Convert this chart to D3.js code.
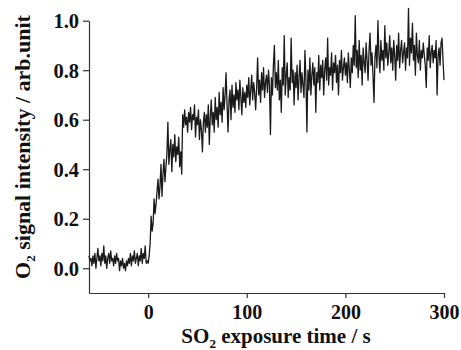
<!DOCTYPE html>
<html>
<head>
<meta charset="utf-8">
<script src="https://cdn.jsdelivr.net/npm/d3@7"></script>
<style>
  body { margin: 0; background: #fff; }
  svg { display: block; }
  text { font-family: "Liberation Serif", "Times New Roman", serif; font-weight: bold; fill: #111; }
</style>
</head>
<body>
<div id="chart"></div>
<script>
// sampling grid of the trace (s)
const startTime = -60;
const stepTime = 1;

// O2 signal before SO2 exposure, t = -60 .. -1 s
const preExposure = [
  0.05, 0.03, 0.04, 0.01, 0.05, 0.02, 0.06, 0.00, 0.04, 0.08,
  0.03, 0.05, 0.01, 0.06, 0.03, 0.09, 0.02, 0.05, 0.00, 0.04,
  0.06, 0.02, 0.07, 0.03, 0.04, 0.01, 0.05, 0.02, 0.06, 0.03,
  0.04, -0.01, 0.03, 0.01, 0.04, 0.00, 0.02, -0.01, 0.03, 0.01,
  0.04, 0.02, 0.06, 0.01, 0.05, 0.03, 0.07, 0.02, 0.04, 0.06,
  0.01, 0.05, 0.03, 0.08, 0.02, 0.06, 0.04, 0.09, 0.02, 0.03
];

// O2 signal during SO2 exposure, t = 0 .. 300 s
const exposure = [
  0.02, 0.05, 0.10, 0.21, 0.15, 0.18, 0.28, 0.22, 0.26, 0.31,
  0.36, 0.28, 0.33, 0.42, 0.29, 0.38, 0.44, 0.35, 0.41, 0.46,
  0.59, 0.42, 0.48, 0.52, 0.39, 0.50, 0.45, 0.54, 0.43, 0.49,
  0.46, 0.53, 0.41, 0.47, 0.38, 0.62, 0.57, 0.64, 0.58, 0.61,
  0.55, 0.63, 0.59, 0.65, 0.56, 0.62, 0.60, 0.66, 0.53, 0.61,
  0.58, 0.64, 0.52, 0.60, 0.56, 0.47, 0.59, 0.63, 0.55, 0.62,
  0.57, 0.66, 0.50, 0.61, 0.68, 0.58, 0.63, 0.55, 0.69, 0.60,
  0.65, 0.57, 0.71, 0.62, 0.67, 0.59, 0.73, 0.64, 0.70, 0.79,
  0.66, 0.55, 0.68, 0.72, 0.60, 0.74, 0.65, 0.70, 0.63, 0.75,
  0.68, 0.72, 0.64, 0.76, 0.69, 0.62, 0.73, 0.67, 0.71, 0.65,
  0.74, 0.69, 0.77, 0.66, 0.72, 0.78, 0.68, 0.75, 0.71, 0.64,
  0.73, 0.85, 0.70, 0.76, 0.67, 0.79, 0.72, 0.81, 0.69, 0.75,
  0.78, 0.71, 0.80, 0.74, 0.54, 0.77, 0.70, 0.82, 0.90, 0.73,
  0.79, 0.72, 0.84, 0.68, 0.76, 0.63, 0.81, 0.74, 0.94, 0.70,
  0.78, 0.83, 0.69, 0.77, 0.72, 0.93, 0.75, 0.80, 0.66, 0.79,
  0.73, 0.82, 0.68, 0.77, 0.84, 0.71, 0.79, 0.74, 0.69, 0.88,
  0.76, 0.55, 0.80, 0.72, 0.85, 0.70, 0.78, 0.83, 0.74, 0.81,
  0.63, 0.79, 0.75, 0.86, 0.72, 0.82, 0.77, 0.84, 0.70, 0.80,
  0.85, 0.76, 0.93, 0.74, 0.81, 0.78, 0.87, 0.72, 0.83, 0.79,
  0.86, 0.75, 0.82, 0.70, 0.84, 0.79, 0.88, 0.76, 0.81, 0.85,
  0.78, 0.83, 0.75, 0.87, 0.80, 0.73, 0.85, 0.79, 0.90, 0.82,
  1.02, 0.81, 0.88, 0.77, 0.92, 0.80, 0.86, 0.74, 0.89, 0.83,
  0.79, 0.91, 0.84, 0.76, 0.88, 0.95, 0.82, 0.87, 0.78, 0.67,
  0.85, 0.90, 0.81, 1.00, 0.86, 0.79, 0.92, 0.84, 0.88, 0.80,
  0.98, 0.85, 0.91, 0.82, 0.87, 0.94, 0.83, 0.89, 0.80, 0.92,
  0.86, 0.76, 0.90, 0.84, 0.95, 0.81, 0.88, 0.92, 0.83, 0.87,
  0.91, 0.80, 0.89, 0.85, 1.05, 0.82, 0.93, 0.87, 0.99, 0.84,
  0.90, 0.78, 0.95, 0.86, 0.83, 0.92, 0.80, 0.88, 0.85, 0.91,
  0.86, 0.82, 0.73, 0.89, 0.84, 0.94, 0.81, 0.87, 0.90, 0.83,
  0.88, 0.85, 0.92, 0.70, 0.86, 0.89, 0.82, 0.91, 0.93, 0.84,
  0.76
];

const xTicks = [0, 100, 200, 300];
const yTicks = [0.0, 0.2, 0.4, 0.6, 0.8, 1.0];

const width = 461, height = 350;
const margin = {top: 20.7, right: 17, bottom: 57, left: 89};

const signal = preExposure.concat(exposure);
const data = signal.map((v, i) => ({t: startTime + i * stepTime, v: v}));

const svg = d3.select("#chart")
  .append("svg")
    .attr("width", width)
    .attr("height", height);

const x = d3.scaleLinear()
  .domain([-60, 300])
  .range([margin.left, width - margin.right]);

const y = d3.scaleLinear()
  .domain([-0.1, 1.0])
  .range([height - margin.bottom, margin.top]);

// x axis
const gx = svg.append("g")
  .attr("transform", "translate(0," + (height - margin.bottom) + ")")
  .call(d3.axisBottom(x).tickValues(xTicks).tickSize(5).tickSizeOuter(0).tickPadding(4));
gx.select(".domain").attr("stroke", "#333").attr("stroke-width", 1.2);
gx.selectAll(".tick line").attr("stroke", "#333").attr("stroke-width", 1.2);
gx.selectAll(".tick text")
  .attr("font-size", 20)
  .attr("font-family", null)
  .attr("y", 26)
  .attr("dy", 0)
  .attr("fill", "#111");

// y axis
const gy = svg.append("g")
  .attr("transform", "translate(" + margin.left + ",0)")
  .call(d3.axisLeft(y).tickValues(yTicks).tickFormat(d3.format(".1f")).tickSize(6).tickSizeOuter(0).tickPadding(4));
gy.select(".domain").attr("stroke", "#333").attr("stroke-width", 1.2);
gy.selectAll(".tick line").attr("stroke", "#333").attr("stroke-width", 1.2);
gy.selectAll(".tick text")
  .attr("font-size", 20.5)
  .attr("font-family", null)
  .attr("dy", "0.34em")
  .attr("fill", "#111");

// trace
const line = d3.line()
  .x(d => x(d.t))
  .y(d => y(d.v));

svg.append("path")
  .datum(data)
  .attr("fill", "none")
  .attr("stroke", "#1a1a1a")
  .attr("stroke-width", 1.3)
  .attr("stroke-linejoin", "round")
  .attr("d", line);

// axis titles
const xt = svg.append("text")
  .attr("x", 276)
  .attr("y", 343)
  .attr("text-anchor", "middle")
  .attr("font-size", 21);
xt.append("tspan").text("SO");
xt.append("tspan").attr("font-size", 13).attr("dy", 5).text("2");
xt.append("tspan").attr("dy", -5).text(" exposure time / s");

const yt = svg.append("text")
  .attr("transform", "translate(30,147) rotate(-90)")
  .attr("text-anchor", "middle")
  .attr("font-size", 22);
yt.append("tspan").text("O");
yt.append("tspan").attr("font-size", 13).attr("dy", 5).text("2");
yt.append("tspan").attr("dy", -5).text(" signal intensity / arb.unit");
</script>
</body>
</html>
